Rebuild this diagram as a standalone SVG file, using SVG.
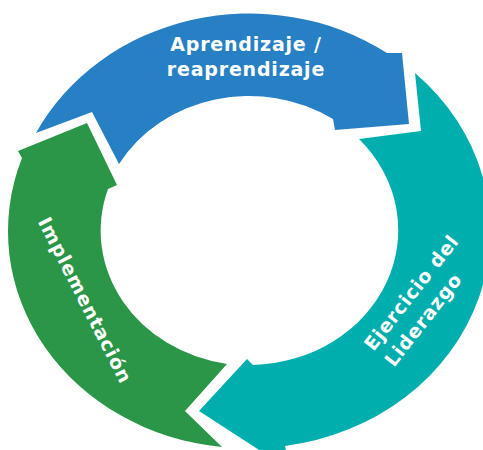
<svg xmlns="http://www.w3.org/2000/svg" width="483" height="450" viewBox="0 0 483 450">
<style>
.lbl{font-family:"DejaVu Sans","Liberation Sans",sans-serif;font-weight:bold;font-size:19px;fill:#ffffff;letter-spacing:0.8px}
.blue{fill:#2880C4}
.teal{fill:#00AEAE}
.green{fill:#2B9648}
</style>
<rect width="483" height="450" fill="#ffffff"/>
<g id="aprendizaje">
<path class="blue" d="M36,133 A239,217 0 0 1 387,53 L402,53 L409,124 L335,130 L333,119 A150,135 0 0 0 119,164 L92,112 Z"/>
<text class="lbl" text-anchor="middle" x="246" y="51">Aprendizaje /</text>
<text class="lbl" text-anchor="middle" x="246" y="76">reaprendizaje</text>
</g>
<g id="ejercicio">
<path class="teal" d="M415,73 A239,217 0 0 1 285,446 L290,470 L199,411 L247,359 L253,365 A150,135 0 0 0 359,139 L421,131 Z"/>
<g transform="translate(368.7,348.3) rotate(-52)">
<text class="lbl" x="0" y="6">Ejercicio del</text>
<text class="lbl" x="0" y="32">Liderazgo</text>
</g>
</g>
<g id="implementacion">
<path class="green" d="M18,151 L87,123 L117,185 L108,189 A150,135 0 0 0 227,364 L185,411 L222,447 A239,217 0 0 1 22,158 Z"/>
<g transform="translate(84.5,300.5) rotate(63)">
<text class="lbl" text-anchor="middle" x="0" y="6">Implementación</text>
</g>
</g>
<g id="connectors"></g>
</svg>
